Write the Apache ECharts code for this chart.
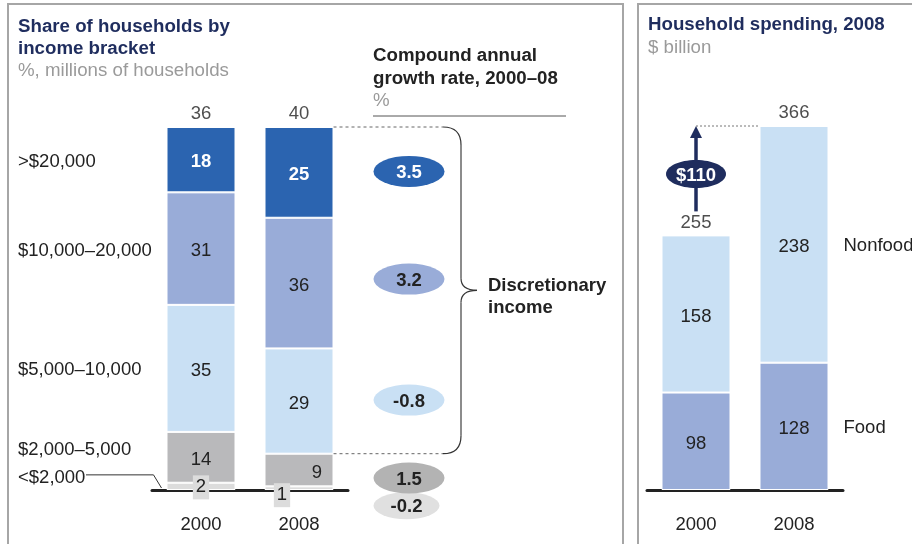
<!DOCTYPE html>
<html>
<head>
<meta charset="utf-8">
<script src="https://cdn.jsdelivr.net/npm/echarts@6/dist/echarts.min.js"></script>
<style>
  html, body { margin: 0; padding: 0; background: #fff; }
  #chart { width: 912px; height: 544px; }
</style>
</head>
<body>
<div id="chart"></div>
<script>
// data
const years = ['2000', '2008']
const brackets = ['<$2,000', '$2,000–5,000', '$5,000–10,000', '$10,000–20,000', '>$20,000']
const shareUnder2k = [2, 1]
const share2to5k = [14, 9]
const share5to10k = [35, 29]
const share10to20k = [31, 36]
const shareOver20k = [18, 25]
const householdsTotal = [36, 40]
const cagrByBracket = [-0.2, 1.5, -0.8, 3.2, 3.5]
const spendingFood = [98, 128]
const spendingNonfood = [158, 238]
const spendingTotal = [255, 366]
const spendingGrowthLabel = '$110'
const spendingNames = ['Food', 'Nonfood']

const FONT = '"Liberation Sans", Arial, sans-serif'
const FS = 18.5
const TITLE_FS = 18.7
const NAVY = '#1f2d5e'
const TEXT = '#222'
const GREY = '#9a9a9a'
const bracketColors = ['#dcdcdc', '#b9b9bb', '#c9e0f4', '#99acd8', '#2b64b0']
const cagrColors = ['#e0e0e0', '#b3b3b3', '#c9e0f4', '#99acd8', '#2b64b0']

const shares = [shareUnder2k, share2to5k, share5to10k, share10to20k, shareOver20k]

const chart = echarts.init(document.getElementById('chart'))

// text sits a touch high in the box, nudge it down
const labelBase = { show: true, position: 'inside', fontSize: FS, fontFamily: FONT, color: TEXT, offset: [0, 2.5] }

// per-item label tweaks for the thin segments
function shareItems(i) {
  return shares[i].map((v, j) => {
    const item = { value: v }
    if (i === 0) {
      item.label = {
        backgroundColor: '#dcdcdc',
        padding: [3, 3, 2, 3],
        offset: j === 0 ? [0, 1] : [-17, 7]
      }
    }
    if (i === 1 && j === 1) {
      item.label = { offset: [18, 2.5] }
    }
    return item
  })
}

const shareSeries = brackets.map((name, i) => ({
  name,
  type: 'bar',
  stack: 'share',
  xAxisIndex: 0,
  yAxisIndex: 0,
  barWidth: 69,
  itemStyle: { color: bracketColors[i], borderColor: '#fff', borderWidth: 1 },
  label: Object.assign({}, labelBase, i === 4 ? { color: '#fff', fontWeight: 'bold' } : {}),
  data: shareItems(i)
}))

// ellipse positions: middle of each 2008 segment, the two thin ones moved apart
let acc = 0
const cagrMids = shares.map(s => {
  const mid = acc + s[1] / 2
  acc += s[1]
  return mid
})
const cagrShift = [[-2.5, 17.5], [0, 8], [0, -1], [0, -4], [0, -1]]
const cagrItems = cagrByBracket.map((v, i) => ({
  value: [0, cagrMids[i]],
  symbolSize: i === 0 ? [66, 27] : [71, 31],
  symbolOffset: cagrShift[i],
  itemStyle: { color: cagrColors[i], opacity: 1 },
  label: {
    show: true,
    position: 'inside',
    offset: [0, 1.5],
    formatter: v.toFixed(1),
    fontSize: FS,
    fontWeight: 'bold',
    fontFamily: FONT,
    color: i === 4 ? '#fff' : TEXT
  }
}))

const axisX = (grid) => ({
  gridIndex: grid,
  type: 'category',
  data: years,
  axisLine: { lineStyle: { color: TEXT, width: 3 } },
  axisTick: { show: false },
  axisLabel: { fontSize: FS, fontFamily: FONT, color: TEXT, margin: 25 }
})

const titleStyle = (color) => ({ fontSize: TITLE_FS, fontWeight: 'bold', color, fontFamily: FONT })

const option = {
  animation: false,
  title: [
    {
      text: 'Share of households by\nincome bracket',
      subtext: '%, millions of households',
      left: 18, top: 15.5, padding: 0, itemGap: 0,
      textStyle: Object.assign(titleStyle(NAVY), { lineHeight: 22 }),
      subtextStyle: { fontSize: TITLE_FS, color: GREY, fontFamily: FONT, lineHeight: 22 }
    },
    {
      text: 'Compound annual\ngrowth rate, 2000–08',
      subtext: '%',
      left: 373, top: 44, padding: 0, itemGap: 0,
      textStyle: Object.assign(titleStyle(TEXT), { lineHeight: 23 }),
      subtextStyle: { fontSize: TITLE_FS, color: GREY, fontFamily: FONT, lineHeight: 22 }
    },
    {
      text: 'Household spending, 2008',
      subtext: '$ billion',
      left: 648, top: 14, padding: 0, itemGap: 1,
      textStyle: Object.assign(titleStyle(NAVY), { lineHeight: 22 }),
      subtextStyle: { fontSize: TITLE_FS, color: GREY, fontFamily: FONT, lineHeight: 22 }
    }
  ],
  grid: [
    { left: 152, width: 196, top: 127, height: 363, outerBoundsMode: 'none' },
    { left: 647, width: 196, top: 126, height: 364, outerBoundsMode: 'none' },
    { left: 373, width: 72, top: 127, height: 363, outerBoundsMode: 'none' }
  ],
  xAxis: [
    axisX(0),
    axisX(1),
    { gridIndex: 2, type: 'category', data: ['CAGR'], show: false }
  ],
  yAxis: [
    { gridIndex: 0, type: 'value', min: 0, max: 100, show: false },
    { gridIndex: 1, type: 'value', min: 0, max: spendingTotal[1], show: false },
    { gridIndex: 2, type: 'value', min: 0, max: 100, show: false }
  ],
  series: [
    ...shareSeries,
    {
      name: 'households',
      type: 'scatter',
      xAxisIndex: 0,
      yAxisIndex: 0,
      symbolSize: 1,
      itemStyle: { color: 'rgba(0,0,0,0)' },
      label: {
        show: true, position: 'top', distance: 3,
        fontSize: FS, fontFamily: FONT, color: TEXT,
        formatter: p => householdsTotal[p.dataIndex]
      },
      data: [100, 100]
    },
    {
      name: 'cagr',
      type: 'scatter',
      xAxisIndex: 2,
      yAxisIndex: 2,
      clip: false,
      symbol: 'circle',
      data: cagrItems
    },
    {
      name: spendingNames[0],
      type: 'bar',
      stack: 'spend',
      xAxisIndex: 1,
      yAxisIndex: 1,
      barWidth: 69,
      itemStyle: { color: '#99acd8', borderColor: '#fff', borderWidth: 1 },
      label: labelBase,
      data: spendingFood
    },
    {
      name: spendingNames[1],
      type: 'bar',
      stack: 'spend',
      xAxisIndex: 1,
      yAxisIndex: 1,
      barWidth: 69,
      itemStyle: { color: '#c9e0f4', borderColor: '#fff', borderWidth: 1 },
      label: labelBase,
      data: spendingNonfood
    },
    {
      name: 'spendTotal',
      type: 'scatter',
      xAxisIndex: 1,
      yAxisIndex: 1,
      symbolSize: 1,
      itemStyle: { color: 'rgba(0,0,0,0)' },
      label: {
        show: true, position: 'top', distance: 3,
        fontSize: FS, fontFamily: FONT, color: TEXT
      },
      data: spendingTotal
    }
  ]
}

chart.setOption(option)

// annotations placed from the axes
const px = (grid, pt) => chart.convertToPixel({ gridIndex: grid }, pt)
const halfBar = 34.5
const txt = (text, x, y, opts = {}) => ({
  type: 'text',
  z: 10,
  style: {
    text, x, y: y + 2,
    font: `${opts.bold ? 'bold ' : ''}${FS}px ${FONT}`,
    fill: opts.fill || TEXT,
    align: opts.align || 'left', textAlign: opts.align || 'left',
    verticalAlign: 'middle', textVerticalAlign: 'middle',
    lineHeight: 22
  }
})
const seg = (x1, y1, x2, y2, style) => ({ type: 'line', shape: { x1, y1, x2, y2 }, style })
const curve = (x1, y1, cpx1, cpy1, x2, y2, style) => ({
  type: 'bezierCurve', shape: { x1, y1, cpx1, cpy1, x2, y2 }, style
})

const graphics = []

// panel frames
graphics.push(
  { type: 'rect', shape: { x: 8, y: 4, width: 615, height: 600 }, style: { fill: 'none', stroke: '#a6a6a6', lineWidth: 2 } },
  { type: 'rect', shape: { x: 638, y: 4, width: 300, height: 600 }, style: { fill: 'none', stroke: '#a6a6a6', lineWidth: 2 } },
  seg(373, 116, 566, 116, { stroke: '#555', lineWidth: 1 })
)

// bracket names beside the 2000 column
const nameShift = [-10.5, -9, 0, 0, 0]
let acc0 = 0
brackets.forEach((name, i) => {
  const mid = acc0 + shares[i][0] / 2
  acc0 += shares[i][0]
  const y = px(0, [0, mid])[1] + nameShift[i]
  graphics.push(txt(name, 18, y))
  if (i === 0) {
    const bx = px(0, [0, 0])[0] - halfBar
    graphics.push({
      type: 'polyline',
      shape: { points: [[86, y - 1], [bx - 13, y - 1], [bx - 5, px(0, [0, 0])[1] - 2]] },
      style: { stroke: '#333', lineWidth: 1, fill: 'none' }
    })
  }
})

// dashed guides and brace for discretionary income
const top2008 = px(0, [1, 100])
const yLow = px(0, [1, shareUnder2k[1] + share2to5k[1]])[1]
const barRight = top2008[0] + halfBar
const yTop = top2008[1]
const bx = 461
const yMid = (yTop + yLow) / 2
const dash = { stroke: '#666', lineWidth: 1, lineDash: [3, 3] }
const brace = { stroke: '#333', lineWidth: 1.2, fill: 'none' }
graphics.push(
  seg(barRight, yTop, 443, yTop, dash),
  seg(barRight, yLow, 443, yLow, dash),
  curve(443, yTop, bx, yTop, bx, yTop + 18, brace),
  seg(bx, yTop + 18, bx, yMid - 12, { stroke: '#666', lineWidth: 1.5 }),
  curve(bx, yMid - 12, bx, yMid, bx + 16, yMid, brace),
  curve(bx + 16, yMid, bx, yMid, bx, yMid + 12, brace),
  seg(bx, yMid + 12, bx, yLow - 18, { stroke: '#666', lineWidth: 1.5 }),
  curve(bx, yLow - 18, bx, yLow, 443, yLow, brace),
  txt('Discretionary\nincome', 488, yMid + 5, { bold: true })
)

// spending growth arrow
const p2000 = px(1, [0, spendingTotal[0]])
const p2008 = px(1, [1, spendingTotal[1]])
const ax = p2000[0]
const arrowBottom = p2000[1] - 25
const arrowTip = p2008[1]
graphics.push(
  seg(ax, arrowTip, p2008[0] - halfBar, arrowTip, { stroke: '#777', lineWidth: 1, lineDash: [2, 2] }),
  seg(ax, arrowBottom, ax, arrowTip + 9, { stroke: NAVY, lineWidth: 3.5 }),
  { type: 'polygon', shape: { points: [[ax - 6, arrowTip + 12], [ax + 6, arrowTip + 12], [ax, arrowTip]] }, style: { fill: NAVY } },
  { type: 'ellipse', shape: { cx: ax, cy: arrowTip + 48, rx: 30, ry: 14 }, style: { fill: NAVY } },
  txt(spendingGrowthLabel, ax, arrowTip + 48, { bold: true, fill: '#fff', align: 'center' })
)

// series names right of the 2008 spending column
const sx = p2008[0] + halfBar + 15
graphics.push(
  txt(spendingNames[1], sx, px(1, [1, spendingFood[1] + spendingNonfood[1] / 2])[1]),
  txt(spendingNames[0], sx, px(1, [1, spendingFood[1] / 2])[1])
)

chart.setOption({ graphic: graphics })
</script>
</body>
</html>
